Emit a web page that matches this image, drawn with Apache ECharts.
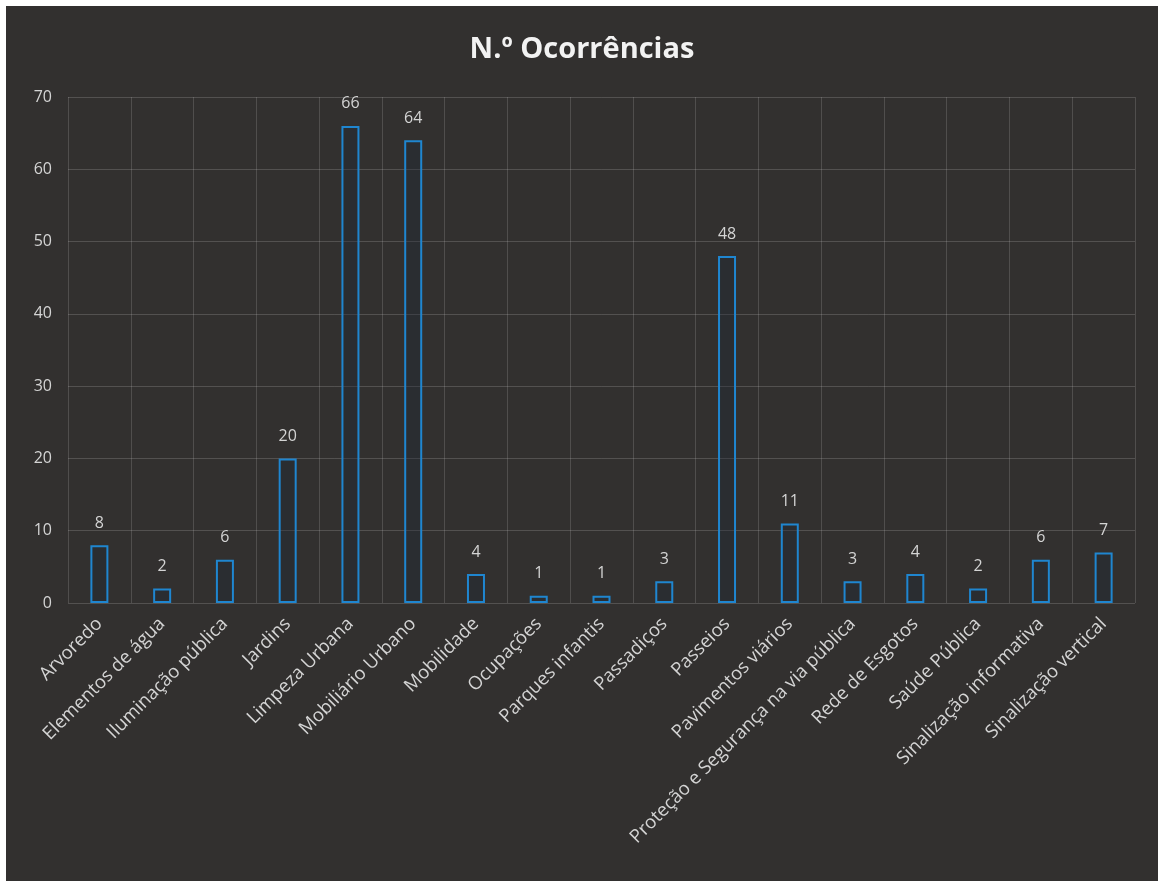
<!DOCTYPE html>
<html><head><meta charset="utf-8">
<script src="https://cdn.jsdelivr.net/npm/echarts@6/dist/echarts.min.js"></script>
<style>html,body{margin:0;padding:0;background:#fff;}#c{position:absolute;left:6px;top:6px;width:1152px;height:875px;}</style>
</head><body><div id="c"></div>
<script>
const categories = ["Arvoredo","Elementos de água","Iluminação pública","Jardins","Limpeza Urbana","Mobiliário Urbano","Mobilidade","Ocupações","Parques infantis","Passadiços","Passeios","Pavimentos viários","Proteção e Segurança na via pública","Rede de Esgotos","Saúde Pública","Sinalização informativa","Sinalização vertical"];
const values = [8,2,6,20,66,64,4,1,1,3,48,11,3,4,2,6,7];
const chart = echarts.init(document.getElementById('c'));
chart.setOption({
  backgroundColor: '#32302f',
  title: {text: 'N.º Ocorrências', left: 'center', top: 24, textStyle: {color: '#f2f2f2', fontSize: 29, fontWeight: 'bold', fontFamily: 'Open Sans'}},
  grid: {left: 62, right: 23, top: 91, bottom: 278},
  xAxis: {type: 'category', data: categories,
    axisLine: {show: false}, axisTick: {show: false},
    splitLine: {show: true, lineStyle: {color: 'rgba(200,200,200,0.2)', width: 1}},
    axisLabel: {rotate: 45, interval: 0, color: '#d4d4d4', fontSize: 18.5, fontFamily: 'Open Sans', margin: 18}},
  yAxis: {type: 'value', min: 0, max: 70, interval: 10,
    axisLine: {show: false}, axisTick: {show: false},
    splitLine: {lineStyle: {color: 'rgba(200,200,200,0.22)', width: 1}},
    axisLabel: {color: '#d4d4d4', fontSize: 16, fontFamily: 'Open Sans', margin: 16}},
  series: [{type: 'bar', data: values, barWidth: 18,
    itemStyle: {color: 'rgba(30,40,55,0.35)', borderColor: '#1f86d0', borderWidth: 2},
    label: {show: true, position: 'top', distance: 14, color: '#d4d4d4', fontSize: 16, fontFamily: 'Open Sans'}}]
});
</script></body></html>
